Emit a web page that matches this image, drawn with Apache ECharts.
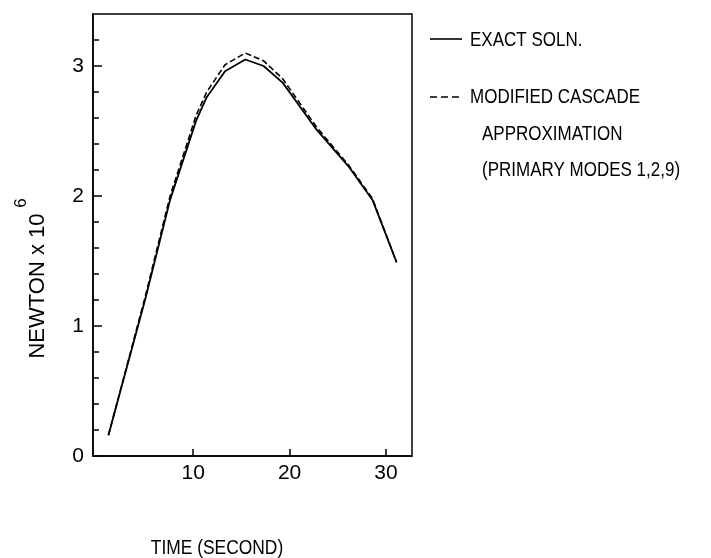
<!DOCTYPE html>
<html>
<head>
<meta charset="utf-8">
<script src="https://cdn.jsdelivr.net/npm/echarts@6/dist/echarts.min.js"></script>
<style>
html,body{margin:0;padding:0;background:#fff;}
#chart{width:711px;height:558px;}
</style>
</head>
<body>
<div id="chart"></div>
<script>
// Data
var times   = [1.2, 5.0, 7.6, 10.3, 11.4, 13.3, 15.4, 17.3, 19.3, 22.8, 26.2, 28.6, 31.1];
var exact   = [0.16, 1.20, 1.97, 2.58, 2.76, 2.96, 3.05, 3.00, 2.87, 2.51, 2.22, 1.97, 1.49];
var cascade = [0.16, 1.22, 2.00, 2.62, 2.80, 3.01, 3.10, 3.04, 2.90, 2.53, 2.23, 1.98, 1.49];

var xTicks = [10, 20, 30];
var yTicks = [0, 1, 2, 3];
var yMinorTicks = [0.2, 0.4, 0.6, 0.8, 1.2, 1.4, 1.6, 1.8, 2.2, 2.4, 2.6, 2.8, 3.2];

var seriesNames = ['EXACT SOLN.', 'MODIFIED CASCADE'];
var legendExtra = ['APPROXIMATION', '(PRIMARY MODES 1,2,9)'];
var xName = 'TIME (SECOND)';
var yName = 'NEWTON x 10';
var yExp = '6';

var FONT = '"Liberation Sans", Arial, sans-serif';
var chart = echarts.init(document.getElementById('chart'), null, {renderer: 'canvas'});

function pairs(xs, ys) { return xs.map(function (x, i) { return [x, ys[i]]; }); }

var axisLineStyle = {color: '#000', width: 1.5};

function txt(x, y, s, size, sx, extra) {
  var st = {text: s, font: size + 'px ' + FONT, fill: '#000', verticalAlign: 'middle', align: 'left'};
  if (extra) { for (var k in extra) st[k] = extra[k]; }
  return {type: 'text', x: x, y: y, scaleX: sx, style: st};
}

var option = {
  backgroundColor: '#fff',
  animation: false,
  grid: {left: 93, right: 299, top: 14, bottom: 102, show: true, borderColor: '#000', borderWidth: 1.5, backgroundColor: 'transparent'},
  xAxis: {
    type: 'value', min: -0.4, max: 32.7,
    axisLine: {show: true, onZero: false, lineStyle: axisLineStyle},
    axisTick: {show: true, inside: true, length: 7, customValues: xTicks, lineStyle: axisLineStyle},
    axisLabel: {customValues: xTicks, fontSize: 21, color: '#000', fontFamily: FONT, margin: 7},
    splitLine: {show: false}
  },
  yAxis: [
    {
      type: 'value', min: 0, max: 3.4, position: 'left',
      axisLine: {show: true, onZero: false, lineStyle: axisLineStyle},
      axisTick: {show: true, inside: true, length: 9, customValues: yTicks, lineStyle: axisLineStyle},
      axisLabel: {customValues: yTicks, fontSize: 21, color: '#000', fontFamily: FONT, margin: 9},
      splitLine: {show: false}
    },
    {
      type: 'value', min: 0, max: 3.4, position: 'left',
      axisLine: {show: false, onZero: false},
      axisTick: {show: true, inside: true, length: 6, customValues: yMinorTicks, lineStyle: axisLineStyle},
      axisLabel: {show: false},
      splitLine: {show: false}
    }
  ],
  series: [
    {
      name: seriesNames[0], type: 'line', data: pairs(times, exact), symbol: 'none',
      lineStyle: {color: '#000', width: 1.8, type: 'solid'}
    },
    {
      name: seriesNames[1], type: 'line', data: pairs(times, cascade), symbol: 'none',
      lineStyle: {color: '#000', width: 1.6, type: [6, 3]}
    }
  ],
  graphic: [
    {type: 'line', shape: {x1: 430, y1: 39, x2: 462, y2: 39}, style: {stroke: '#000', lineWidth: 1.6}},
    txt(470, 40, seriesNames[0], 20, 0.85),
    {type: 'line', shape: {x1: 430, y1: 97, x2: 462, y2: 97}, style: {stroke: '#000', lineWidth: 1.6, lineDash: [7, 4]}},
    txt(470, 97, seriesNames[1], 20, 0.85),
    txt(482, 134, legendExtra[0], 20, 0.85),
    txt(482, 170, legendExtra[1], 20, 0.85),
    txt(217, 548, xName, 20, 0.87, {align: 'center'}),
    {type: 'text', x: 38, y: 286, rotation: Math.PI / 2, scaleX: 1.0,
     style: {text: yName, font: '22px ' + FONT, fill: '#000', align: 'center', verticalAlign: 'middle'}},
    {type: 'text', x: 21, y: 203, rotation: Math.PI / 2,
     style: {text: yExp, font: '17px ' + FONT, fill: '#000', align: 'center', verticalAlign: 'middle'}}
  ]
};
chart.setOption(option);
</script>
</body>
</html>
